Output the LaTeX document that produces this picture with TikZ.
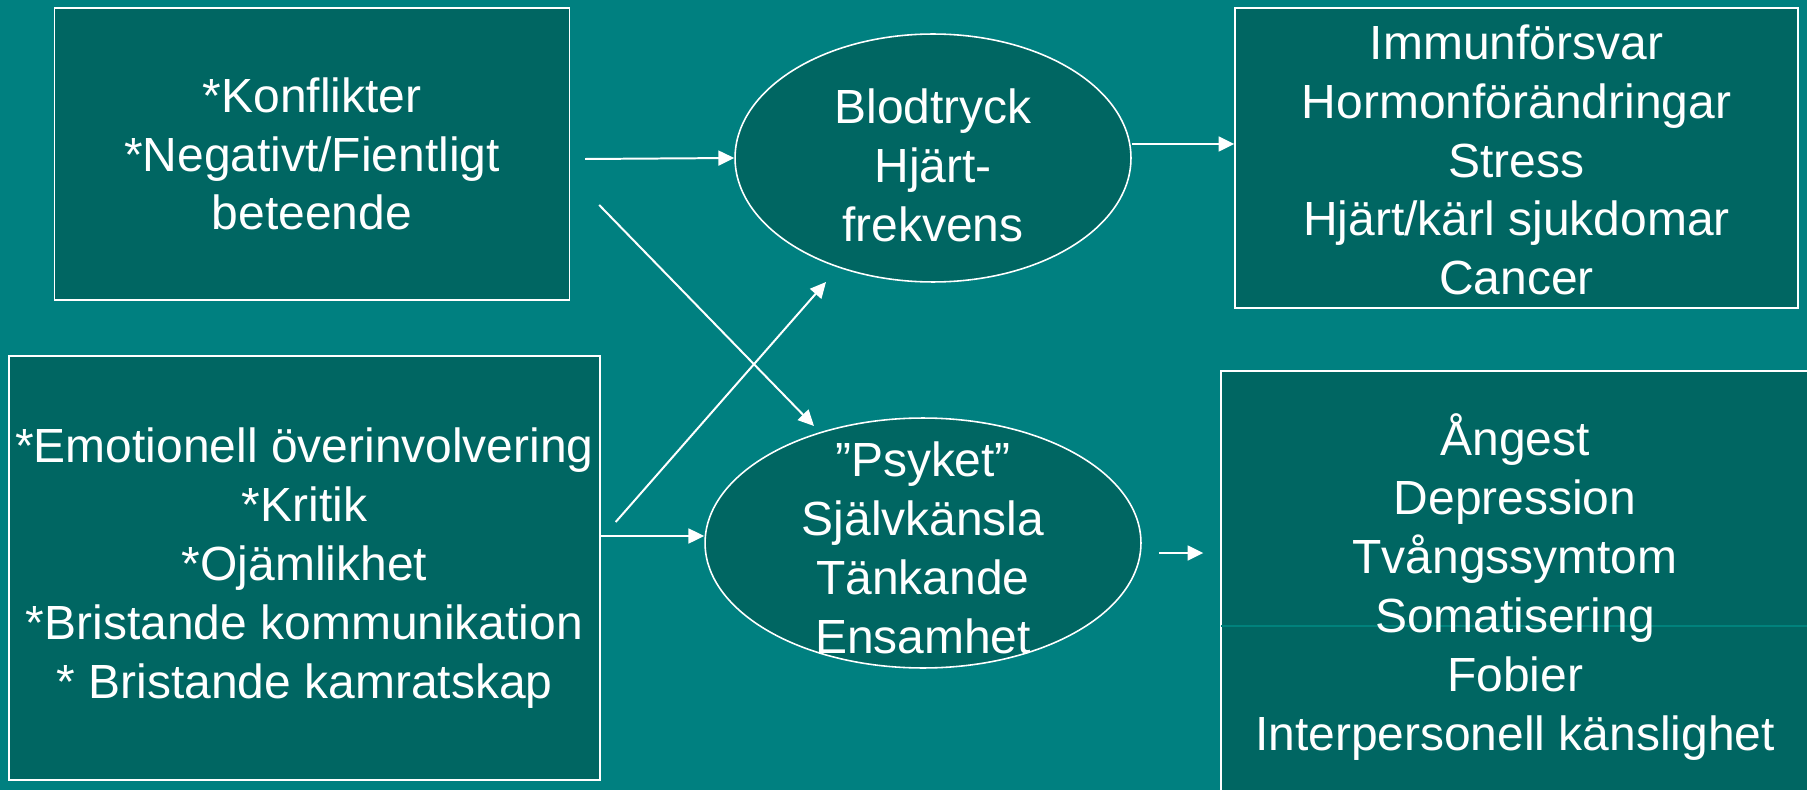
\documentclass[tikz,border=0pt]{standalone}
\usepackage{fontspec}
\setmainfont{Liberation Sans}
\usetikzlibrary{shapes.geometric, arrows.meta, calc, positioning}
\definecolor{slidebg}{RGB}{0,128,128}
\definecolor{boxfill}{RGB}{0,102,98}
\definecolor{seamline}{RGB}{0,130,124}

\tikzset{
  slidetext/.style={text=white, align=center, font=\fontsize{27.3}{33.5}\selectfont},
  box/.style={slidetext, draw=white, line width=0.85pt, fill=boxfill, inner sep=0pt},
  oval/.style={ellipse, draw=white, line width=0.9pt, fill=boxfill, inner sep=0pt},
  arr/.style={-{Triangle[length=9pt,width=8.5pt]}, white, line width=1.13pt}
}

\begin{document}
\begin{tikzpicture}[x=0.02cm, y=-0.02cm]
  % Slide background
  \useasboundingbox (0,0) rectangle (1807,790);
  \clip (0,0) rectangle (1807,790);
  \fill[slidebg] (0,0) rectangle (1807,790);

  % Causes (left)
  \node[box, minimum width=10.3cm, minimum height=5.84cm] (konf) at (312,154)
    {*Konflikter\\*Negativt/Fientligt\\beteende};
  \node[box, minimum width=11.82cm, minimum height=8.48cm] (emot) at (304.5,568)
    {*Emotionell överinvolvering\\*Kritik\\*Ojämlikhet\\*Bristande kommunikation\\* Bristande kamratskap};

  % Reactions (middle)
  \node[oval, minimum width=7.92cm, minimum height=4.96cm] (blod) at (933,158) {};
  \node[slidetext] (blod-t) at ($(blod.center)+(0,7)$) {Blodtryck\\Hjärt-\\frekvens};
  \node[oval, minimum width=8.72cm, minimum height=5cm] (psyk) at (923,543) {};
  \node[slidetext] (psyk-t) at ($(psyk.center)+(0,5)$) {”Psyket”\\Självkänsla\\Tänkande\\Ensamhet};

  % Outcomes (right)
  \node[box, minimum width=11.26cm, minimum height=6cm] (kropp) at (1516.5,158) {};
  \node[slidetext] (kropp-t) at ($(kropp.center)+(0,2)$)
    {Immunförsvar\\Hormonförändringar\\Stress\\Hjärt/kärl sjukdomar\\Cancer};
  \node[box, minimum width=11.76cm, minimum height=8.56cm] (sinne) at (1515,585) {};
  \draw[seamline, line width=0.6pt] ($(sinne.west)+(1,41)$) -- ($(sinne.east)+(0,41)$);
  \node[slidetext] (sinne-t) at ($(sinne.center)+(0,2)$)
    {Ångest\\Depression\\Tvångssymtom\\Somatisering\\Fobier\\Interpersonell känslighet};

  % Arrows
  \draw[arr] ($(konf.east)+(15,5)$) -- (blod.west);
  \draw[arr] ($(konf.east)+(29,51)$) -- ($(psyk.center)+(-109,-117)$);
  \draw[arr] ($(emot.east)+(15,-46)$) -- ($(blod.center)+(-107,124)$);
  \draw[arr] ($(emot.east)+(0,-32)$) -- ($(psyk.west)+(0,-7)$);
  \draw[arr] ($(blod.east)+(0,-14)$) -- ($(kropp.west)+(0,-14)$);
  \draw[arr] ($(psyk.east)+(17,10)$) -- ($(sinne.west)+(-17,-32)$);
\end{tikzpicture}
\end{document}
